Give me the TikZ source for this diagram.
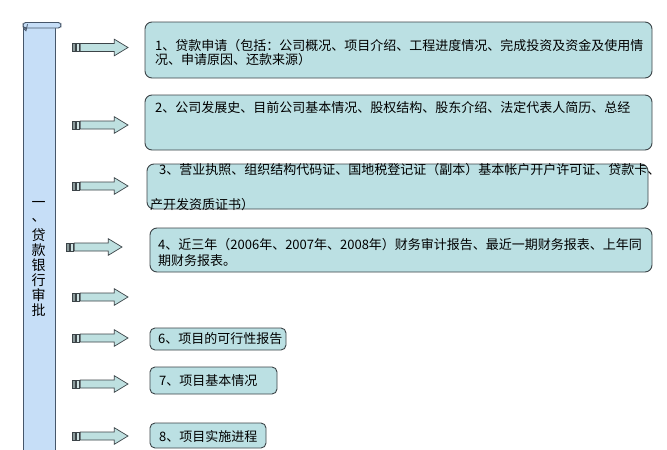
\documentclass[tikz,border=0pt]{standalone}
\usepackage{fontspec}
\setmainfont{Noto Sans CJK SC}
\definecolor{boxfill}{HTML}{BBE0E3}
\definecolor{boxdraw}{HTML}{3C4448}
\definecolor{barfill}{HTML}{C6DEF7}
\definecolor{bardraw}{HTML}{46566A}
\definecolor{arrfill}{HTML}{BEE0E0}
\definecolor{stripeA}{HTML}{8C9C9C}
\definecolor{stripeB}{HTML}{D0E4E4}
\begin{document}
\begin{tikzpicture}[x=1pt,y=-1pt,
  itembox/.style={draw=boxdraw,fill=boxfill,line width=0.9pt,rounded corners=7pt},
  smallbox/.style={draw=boxdraw,fill=boxfill,line width=0.9pt,rounded corners=5pt},
  itemtext/.style={inner sep=0pt,align=left,font=\fontsize{13}{14.5}\selectfont,text=black},
  stripearrow/.pic={
    \filldraw[fill=stripeA,draw=boxdraw,line width=0.6pt] (0,-4) rectangle (3.3,4);
    \filldraw[fill=stripeB,draw=boxdraw,line width=0.6pt] (4.2,-4) rectangle (7.4,4);
    \filldraw[fill=arrfill,draw=boxdraw,line width=0.7pt,line join=miter]
      (8.3,-4) -- (42.3,-4) -- (42.3,-8.3) -- (56,0) -- (42.3,8.3) -- (42.3,4) -- (8.3,4) -- cycle;
  }]
\useasboundingbox (0,0) rectangle (667,450);
\fill[white] (0,0) rectangle (667,450);

% scroll bar
\filldraw[fill=barfill,draw=bardraw,line width=0.9pt] (23,27) rectangle (55,453);
\filldraw[fill=barfill,draw=bardraw,line width=0.9pt,rounded corners=2.8pt] (23,22.5) rectangle (61,28);
\draw[bardraw,line width=0.8pt] (26,27.5) arc[start angle=270,end angle=90,radius=1.6] -- (27.5,24.3);
\node[inner sep=0pt,align=center,font=\fontsize{14}{15}\selectfont] (title) at (38.5,259)
  {一\\[-1pt]、\\[4pt]贷\\款\\银\\行\\审\\批};

% arrows
\pic (ar1) at (72,47.5) {stripearrow};
\pic (ar2) at (72,125) {stripearrow};
\pic (ar3) at (72,186) {stripearrow};
\pic (ar4) at (66,247) {stripearrow};
\pic (ar5) at (72,297) {stripearrow};
\pic (ar6) at (72,338) {stripearrow};
\pic (ar7) at (72,384) {stripearrow};
\pic (ar8) at (72,436) {stripearrow};

% boxes
\draw[itembox] (145,22) rectangle (652,78);
\draw[itembox] (145,95) rectangle (652,150);
\draw[itembox] (147,164) rectangle (648,209);
\draw[itembox] (150,228) rectangle (652,272);
\draw[smallbox] (150,328) rectangle (286,350);
\draw[smallbox] (150,367) rectangle (277,394);
\draw[smallbox] (150,423) rectangle (266,448);

% texts
\node[itemtext,anchor=west] (t1) at (155,52.5)
  {1、贷款申请（包括：公司概况、项目介绍、工程进度情况、完成投资及资金及使用情\\[-1pt]况、申请原因、还款来源）};
\node[itemtext,anchor=west] (t2) at (155,108)
  {2、公司发展史、目前公司基本情况、股权结构、股东介绍、法定代表人简历、总经};
\node[itemtext,anchor=west] (t3a) at (159,169.5)
  {3、营业执照、组织结构代码证、国地税登记证（副本）基本帐户开户许可证、贷款卡、};
\node[itemtext,anchor=west] (t3b) at (150,205)
  {产开发资质证书）};
\node[itemtext,anchor=west] (t4) at (158,252.5)
  {4、近三年（2006年、2007年、2008年）财务审计报告、最近一期财务报表、上年同\\[2pt]期财务报表。};
\node[itemtext,anchor=west] (t6) at (158,339) {6、项目的可行性报告};
\node[itemtext,anchor=west] (t7) at (159,381) {7、项目基本情况};
\node[itemtext,anchor=west] (t8) at (159,437) {8、项目实施进程};
\end{tikzpicture}
\end{document}
